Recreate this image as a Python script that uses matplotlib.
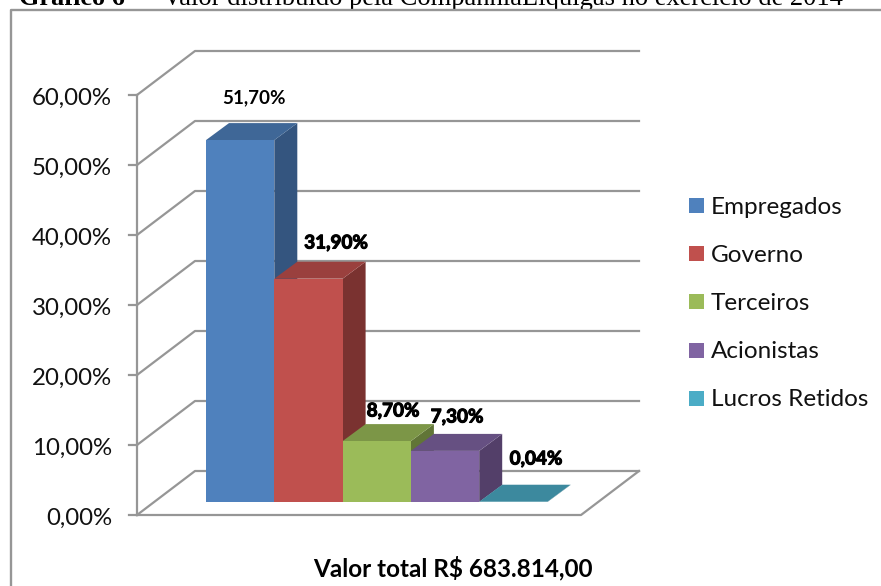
import matplotlib
matplotlib.use("Agg")
import matplotlib.pyplot as plt
from matplotlib.patches import Polygon, Rectangle
import matplotlib.patheffects as pe

categories = ["Empregados", "Governo", "Terceiros", "Acionistas", "Lucros Retidos"]
values = [51.70, 31.90, 8.70, 7.30, 0.04]
value_labels = ["51,70%", "31,90%", "8,70%", "7,30%", "0,04%"]
axis_ticks = [0, 10, 20, 30, 40, 50, 60]
axis_labels = ["0,00%", "10,00%", "20,00%", "30,00%", "40,00%", "50,00%", "60,00%"]
title_bold = "Gráfico 6"
title_rest = "Valor distribuído pela CompanhiaLiquigás no exercício de 2014"
footer = "Valor total R$ 683.814,00"

front = ["#4f81bd", "#c0504d", "#9bbb59", "#8064a2", "#4bacc6"]
top = ["#3f6797", "#9a403e", "#7c9647", "#665082", "#3c899e"]
side = ["#34557f", "#7a3230", "#617537", "#533f69", "#2d6776"]
grid = "#969696"

W, H = 881, 586
fig = plt.figure(figsize=(W / 100, H / 100), dpi=100)
ax = fig.add_axes([0, 0, 1, 1])
ax.set_xlim(0, W)
ax.set_ylim(H, 0)
ax.axis("off")
plt.rcParams["font.family"] = "Lato"

# projection of the 3D chart
X0, Y0 = 137, 515
PX = 7.0
DX, DY = 58, -44
XR = 581
def wall_y(v):
    return Y0 - v * PX

# frame: left and top edges only are visible in the crop
ax.plot([11, 11, W + 5], [H + 5, 9.5, 9.5], color=grid, lw=1.7, zorder=8)

# gridlines, axis
for t, lab in zip(axis_ticks, axis_labels):
    y = wall_y(t)
    ax.plot([X0, X0 + DX, XR + DX], [y, y + DY, y + DY], color=grid, lw=1.6, zorder=2)
    ax.plot([X0 - 8, X0], [y, y], color=grid, lw=1.6, zorder=2)
    ax.text(112, y + 3.5, lab, ha="right", va="center", fontsize=17.3, color="#111111", zorder=6)
ax.plot([X0, X0], [wall_y(0), wall_y(60)], color=grid, lw=1.6, zorder=2)
ax.plot([X0, XR, XR + DX], [Y0, Y0, Y0 + DY], color=grid, lw=1.6, zorder=2)

# bars: later bars overlap the side of the earlier ones
BX0, BW = 206, 68.3
BY = 502
BDX, BDY = 23, -17
for i, (v, f, t, s) in enumerate(zip(values, front, top, side)):
    l = BX0 + i * BW
    r = l + BW
    yt = BY - v * PX
    z = 3 + i * 0.1
    ax.add_patch(Polygon([(r, BY), (r + BDX, BY + BDY), (r + BDX, yt + BDY), (r, yt)], fc=s, ec="none", zorder=z))
    ax.add_patch(Polygon([(l, yt), (r, yt), (r + BDX, yt + BDY), (l + BDX, yt + BDY)], fc=t, ec="none", zorder=z))
    ax.add_patch(Rectangle((l, yt), BW, v * PX, fc=f, ec="none", zorder=z))

# data labels
label_pos = [(254, 98), (336, 243), (393, 411), (457, 417), (536, 459)]
for i, (lab, (x, y)) in enumerate(zip(value_labels, label_pos)):
    eff = [pe.withStroke(linewidth=0.8, foreground="black")] if i else []
    ax.text(x, y, lab, ha="center", va="center", fontsize=13.6, fontweight="bold", color="black",
            path_effects=eff, zorder=7)

# legend
for i, (c, col) in enumerate(zip(categories, front)):
    y = 205.5 + i * 48.2
    ax.add_patch(Rectangle((689, y - 7.5), 15, 15, fc=col, ec="none", zorder=6))
    ax.text(711, y + 1.5, c, ha="left", va="center", fontsize=17.5, color="#111111", zorder=6)

ax.text(452.5, 568.5, footer, ha="center", va="center", fontsize=17.5, fontweight="bold", color="black", zorder=6)

# caption clipped by page top
ax.text(19, 5, title_bold, ha="left", va="baseline", fontsize=18.9, fontweight="bold", family="Liberation Serif", zorder=6)
ax.text(163, 5, title_rest, ha="left", va="baseline", fontsize=19.1, family="Liberation Serif", zorder=6)

fig.savefig("out.png", dpi=100)
